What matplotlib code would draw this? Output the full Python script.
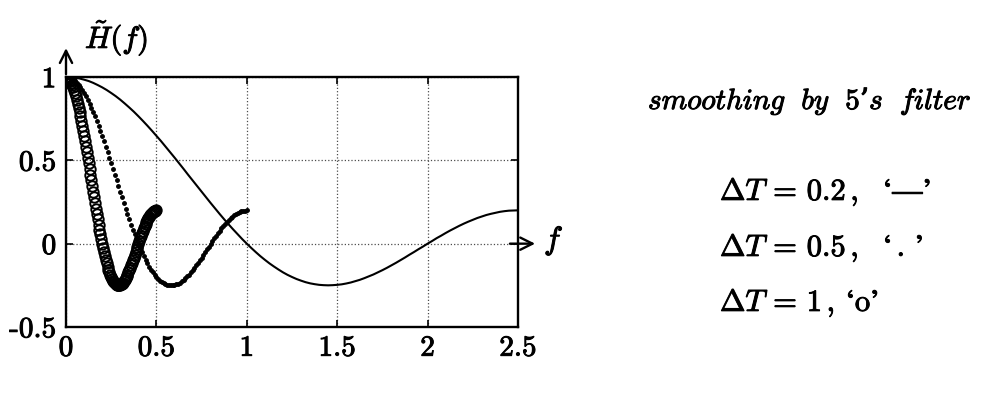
import numpy as np
import matplotlib
matplotlib.use("Agg")
import matplotlib.pyplot as plt
import matplotlib.patheffects as pe

plt.rcParams['mathtext.fontset'] = 'cm'

# response of the 5-point smoothing filter,
# sampled on the normalised frequency f*dT = 0 ... 0.5 (101 points)
H_tilde = [
    1.000, 0.999, 0.996, 0.991, 0.984, 0.976, 0.965, 0.952, 0.938, 0.922,
    0.904, 0.885, 0.864, 0.841, 0.817, 0.792, 0.765, 0.737, 0.708, 0.678,
    0.647, 0.616, 0.583, 0.550, 0.517, 0.483, 0.449, 0.414, 0.380, 0.346,
    0.312, 0.278, 0.244, 0.211, 0.178, 0.146, 0.115, 0.085, 0.056, 0.027,
    0.000, -0.026, -0.051, -0.075, -0.097, -0.118, -0.137, -0.155, -0.172, -0.187,
    -0.200, -0.212, -0.222, -0.231, -0.238, -0.243, -0.247, -0.249, -0.250, -0.249,
    -0.247, -0.244, -0.239, -0.233, -0.225, -0.217, -0.207, -0.196, -0.185, -0.172,
    -0.159, -0.145, -0.130, -0.115, -0.099, -0.083, -0.066, -0.050, -0.033, -0.017,
    0.000, 0.016, 0.033, 0.048, 0.064, 0.079, 0.093, 0.107, 0.120, 0.132,
    0.143, 0.154, 0.163, 0.172, 0.179, 0.185, 0.191, 0.195, 0.198, 0.199,
    0.200,
]
dT_values = [0.2, 0.5, 1.0]
styles = ['-', '.', 'o']

xticks = [0, 0.5, 1, 1.5, 2, 2.5]
xtick_labels = ['0', '0.5', '1', '1.5', '2', '2.5']
yticks = [-0.5, 0, 0.5, 1]
ytick_labels = ['-0.5', '0', '0.5', '1']

# scanned print look: thicken all glyphs a little
thick = [pe.withStroke(linewidth=0.7, foreground='black')]

W, Hpx = 1005, 397
fig = plt.figure(figsize=(W / 100, Hpx / 100), dpi=100)
ax = fig.add_axes([66 / W, 70 / Hpx, 452 / W, 250 / Hpx])

for dT, st in zip(dT_values, styles):
    f = np.linspace(0, 0.5 / dT, len(H_tilde))
    if st == '-':
        ax.plot(f, H_tilde, '-', color='black', lw=1.5, zorder=3)
    elif st == '.':
        ax.plot(f, H_tilde, '.', color='black', ms=5, zorder=3)
    else:
        ax.plot(f, H_tilde, 'o', mfc='none', mec='black', ms=7.5, mew=1.4, zorder=4)

ax.set_xlim(0, 2.5)
ax.set_ylim(-0.5, 1)
ax.set_xticks(xticks)
ax.set_xticklabels(xtick_labels, family='cmr10', fontsize=21)
ax.set_yticks(yticks)
ax.set_yticklabels(ytick_labels, family='cmr10', fontsize=21)
for t in ax.get_xticklabels() + ax.get_yticklabels():
    t.set_path_effects(thick)
ax.tick_params(direction='in', length=5, width=1.2, top=True, right=True)
ax.tick_params(axis='x', pad=6)
ax.tick_params(axis='y', pad=7)
ax.grid(True, linestyle=':', color='0.3', linewidth=0.9)
for sp in ax.spines.values():
    sp.set_linewidth(1.7)

# axis arrows
ax.annotate('', xy=(0, 1.19), xytext=(0, 1.0), annotation_clip=False,
            arrowprops=dict(arrowstyle='->', lw=1.7, mutation_scale=22, color='black'))
ax.annotate('', xy=(2.61, 0), xytext=(2.44, 0), annotation_clip=False,
            arrowprops=dict(arrowstyle='->', lw=1.7, mutation_scale=22, color='black'))

fig.text(85 / W, 1 - 48 / Hpx, r'$\tilde{H}(f)$', fontsize=22, va='baseline',
         path_effects=thick)
fig.text(544 / W, 1 - 249 / Hpx, r'$f$', fontsize=23, va='baseline', path_effects=thick)

fig.text(648 / W, 1 - 109 / Hpx,
         r'$\mathit{smoothing\ \ by}\ \ \mathrm{5}$' + '’' + r'$\mathit{s\ \ filter}$',
         fontsize=21, va='baseline', family='DejaVu Serif', path_effects=thick)
labels = [r'$\Delta T\,=\,0.2\,,\ \ \mathrm{‘—’}$',
          r'$\Delta T\,=\,0.5\,,\ \ \mathrm{‘\,.\,’}$',
          r'$\Delta T\,=\,1\,,\,\mathrm{‘o’}$']
for lab, yb in zip(labels, [200, 256, 311]):
    fig.text(720 / W, 1 - yb / Hpx, lab, fontsize=22, va='baseline', path_effects=thick)

fig.savefig('out.png', dpi=100)
